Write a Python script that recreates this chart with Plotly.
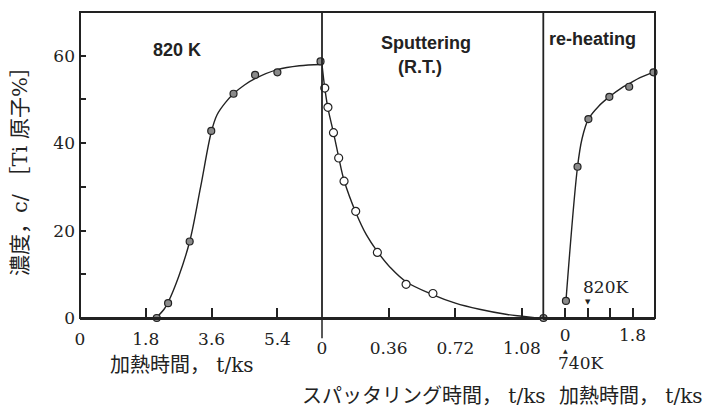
import plotly.graph_objects as go

# ---------------- data ----------------
# Panel 1: heating at 820 K
heat_t = [2.10, 2.41, 3.00, 3.59, 4.20, 4.79, 5.40, 6.58]
heat_c = [0.0, 3.4, 17.5, 42.8, 51.3, 55.6, 56.2, 58.7]
heat_curve_t = [2.08, 2.30, 2.41, 2.70, 3.00, 3.30, 3.59, 3.75, 4.00, 4.20, 4.50, 4.80, 5.40, 6.00, 6.58]
heat_curve_c = [0.0, 2.0, 3.6, 9.5, 17.5, 30.0, 42.5, 46.5, 49.5, 51.3, 53.3, 54.8, 56.8, 57.7, 58.0]

# Panel 2: sputtering at room temperature
sput_t = [0.015, 0.032, 0.062, 0.090, 0.119, 0.182, 0.299, 0.454, 0.599]
sput_c = [52.6, 48.2, 42.4, 36.6, 31.3, 24.4, 15.0, 7.7, 5.6]
sput_curve_t = [0.0, 0.015, 0.032, 0.062, 0.090, 0.119, 0.182, 0.240, 0.299, 0.370, 0.454, 0.600, 0.720, 0.850, 1.000, 1.080, 1.160]
sput_curve_c = [58.0, 52.6, 48.0, 42.4, 36.8, 31.5, 24.2, 19.0, 15.2, 11.5, 8.3, 5.3, 3.4, 2.0, 0.8, 0.4, 0.0]

# Panel 3: re-heating
reheat_t = [-0.58, 0.02, 0.33, 0.62, 1.18, 1.71, 2.36]
reheat_c = [0.0, 3.9, 34.6, 45.5, 50.6, 52.9, 56.2]
reheat_curve_t = [0.02, 0.33, 0.45, 0.62, 0.90, 1.18, 1.50, 1.71, 2.00, 2.36]
reheat_curve_c = [3.9, 34.6, 41.0, 45.5, 48.5, 50.6, 52.6, 53.6, 55.0, 56.2]

# tick labels
x1_ticks = [0, 1.8, 3.6, 5.4]
x1_text = ["0", "1.8", "3.6", "5.4"]
x2_ticks = [0, 0.36, 0.72, 1.08]
x2_text = ["0", "0.36", "0.72", "1.08"]
x3_ticks = [0, 0.6, 1.2, 1.8]
x3_text = ["0", "", "", "1.8"]
y_ticks = [0, 10, 20, 30, 40, 50, 60]
y_text = ["0", "", "20", "", "40", "", "60"]

INK = "#222222"
SERIF = "DejaVu Serif, Noto Sans CJK JP, serif"
JP = "DejaVu Serif, Noto Sans CJK JP"
SANS = "Liberation Sans, Arial, sans-serif"

fig = go.Figure()

line_style = dict(color=INK, width=1.4)
filled = dict(size=7, color="#8a8a8a", line=dict(color=INK, width=1.2))
hollow = dict(size=8, color="white", line=dict(color=INK, width=1.2))

fig.add_trace(go.Scatter(x=heat_curve_t, y=heat_curve_c, mode="lines", line_shape="spline",
                         line=line_style, xaxis="x", yaxis="y", cliponaxis=False, hoverinfo="skip"))
fig.add_trace(go.Scatter(x=heat_t, y=heat_c, mode="markers", marker=filled,
                         xaxis="x", yaxis="y", cliponaxis=False))

fig.add_trace(go.Scatter(x=sput_curve_t, y=sput_curve_c, mode="lines", line_shape="spline",
                         line=line_style, xaxis="x2", yaxis="y2", cliponaxis=False, hoverinfo="skip"))
fig.add_trace(go.Scatter(x=sput_t, y=sput_c, mode="markers", marker=hollow,
                         xaxis="x2", yaxis="y2", cliponaxis=False))

fig.add_trace(go.Scatter(x=reheat_curve_t, y=reheat_curve_c, mode="lines", line_shape="spline",
                         line=line_style, xaxis="x3", yaxis="y3", cliponaxis=False, hoverinfo="skip"))
fig.add_trace(go.Scatter(x=reheat_t, y=reheat_c, mode="markers", marker=filled,
                         xaxis="x3", yaxis="y3", cliponaxis=False))

d1 = (322 - 80) / 575
d2 = (543.3 - 80) / 575

xcommon = dict(showline=True, linecolor=INK, linewidth=2.2, ticks="inside",
               ticklen=10, tickwidth=2, tickcolor=INK, showgrid=False, zeroline=False,
               tickfont=dict(family=SERIF, size=17, color=INK))
ycommon = dict(range=[0, 70], showline=False, showgrid=False, zeroline=False)

fig.update_layout(
    width=724, height=412,
    margin=dict(l=80, r=69, t=12, b=94),
    paper_bgcolor="white", plot_bgcolor="white",
    showlegend=False,
    xaxis=dict(domain=[0, d1], range=[0, 6.62], tickvals=x1_ticks, ticktext=x1_text,
               ticklabelstandoff=4, anchor="y", **xcommon),
    xaxis2=dict(domain=[d1, d2], range=[0, 1.195], tickvals=x2_ticks, ticktext=x2_text,
                ticklabelstandoff=13, anchor="y2", **xcommon),
    xaxis3=dict(domain=[d2, 1], range=[-0.585, 2.40], tickvals=x3_ticks, ticktext=x3_text,
                ticklabelstandoff=0, anchor="y3", **xcommon),
    yaxis=dict(anchor="x", tickvals=y_ticks, ticktext=y_text, ticks="inside", ticklen=6,
               tickwidth=2, tickcolor=INK, ticklabelstandoff=4,
               tickfont=dict(family=SERIF, size=17, color=INK), **ycommon),
    yaxis2=dict(anchor="x2", matches="y", showticklabels=False, ticks="", **ycommon),
    yaxis3=dict(anchor="x3", matches="y", showticklabels=False, ticks="", **ycommon),
)

# outer frame (top, left, right) and panel dividers
fig.add_shape(type="rect", xref="paper", yref="paper", x0=0, x1=1, y0=0, y1=1,
              line=dict(color=INK, width=2), fillcolor="rgba(0,0,0,0)", layer="above")
for d in (d1, d2):
    fig.add_shape(type="line", xref="paper", yref="paper", x0=d, x1=d, y0=0, y1=1,
                  line=dict(color=INK, width=1.8), layer="above")
# divider between heating and sputtering panels extends below the axis
fig.add_shape(type="line", xref="paper", yref="paper", x0=d1, x1=d1, y0=0, y1=-0.066,
              line=dict(color=INK, width=1.5))

ann = []


def label(text, x, y, xref, yref, family, size, **kw):
    ann.append(dict(text=text, x=x, y=y, xref=xref, yref=yref, xanchor="center",
                    yanchor="middle", font=dict(family=family, size=size, color=INK),
                    showarrow=False, **kw))


# panel labels
label("<b>820 K</b>", 2.66, 61.2, "x", "y", SANS, 18)
label("<b>Sputtering</b>", 0.56, 63.0, "x2", "y2", SANS, 18)
label("<b>(R.T.)</b>", 0.53, 57.5, "x2", "y2", SANS, 18)
label("<b>re-heating</b>", 0.73, 63.9, "x3", "y3", SANS, 18)
# temperature marks in re-heating panel
label("820K", 1.09, 7.0, "x3", "y3", SERIF, 17)
label("▼", 0.6, 3.6, "x3", "y3", "DejaVu Sans", 7)
label("740K", 0.40, -0.146, "x3", "paper", SERIF, 17)
label("▲", 0.0, -0.107, "x3", "paper", "DejaVu Sans", 6)
# axis titles
label("加熱時間， t/ks", (182 - 80) / 575, (318 - 365) / 306, "paper", "paper", JP, 20)
label("スパッタリング時間， t/ks", (424 - 80) / 575, (318 - 396) / 306, "paper", "paper", JP, 20)
label("加熱時間， t/ks", (631 - 80) / 575, (318 - 396) / 306, "paper", "paper", JP, 20)
label("濃度，c/ ［Ti 原子%］", (20 - 80) / 575, (318 - 166) / 306, "paper", "paper", JP, 21,
      textangle=-90)
fig.update_layout(annotations=ann)

fig.write_html("out.html")
